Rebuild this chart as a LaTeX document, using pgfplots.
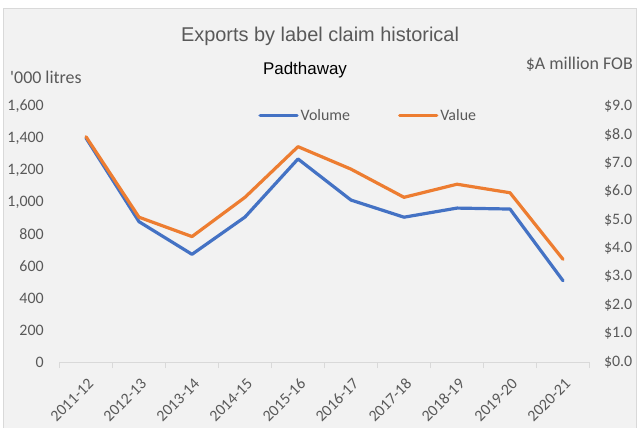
\documentclass[border=0pt]{standalone}
\usepackage{pgfplots}
\pgfplotsset{compat=1.18}
\usepackage{fontspec}
\setmainfont{Carlito}
\newfontfamily\cplain{Carlito}[Ligatures=TeXOff]
\newfontfamily\arial{Liberation Sans}
\definecolor{bgc}{HTML}{F2F2F2}
\definecolor{brd}{HTML}{D9D9D9}
\definecolor{txt}{HTML}{595959}
\definecolor{vol}{HTML}{4472C4}
\definecolor{val}{HTML}{ED7D31}
\pgfplotstableread{
x vol val
0 1400 7.92
1 877 5.09
2 673 4.41
3 906 5.79
4 1269 7.57
5 1012 6.78
6 905 5.79
7 962 6.25
8 956 5.95
9 508 3.61
}\data
\begin{document}
\begin{tikzpicture}[x=1bp,y=1bp]
\useasboundingbox (0,0) rectangle (638,427);
\fill[white] (0,0) rectangle (638,427);
\filldraw[fill=bgc,draw=brd,line width=1bp] (3,-2) rectangle (636.5,418);
\node[font=\arial\fontsize{20}{24}\selectfont,text=txt] at (320,391) {Exports by label claim historical};
\node[font=\arial\fontsize{17}{20}\selectfont,text=black] at (305,357) {Padthaway};
\node[font=\cplain\fontsize{18}{21}\selectfont,text=txt,anchor=west,inner sep=0pt] at (10,350) {'000 litres};
\node[font=\fontsize{18}{21}\selectfont,text=txt,anchor=east,inner sep=0pt] at (633,363) {\$A million FOB};
\begin{axis}[
  at={(59.5bp,65bp)}, anchor=south west,
  scale only axis, width=530bp, height=256bp,
  xmin=-0.5, xmax=9.5, ymin=0, ymax=1600,
  axis x line*=bottom, axis y line*=left,
  x axis line style={draw=brd,line width=1bp,-},
  y axis line style={draw=none},
  xtick={0,...,9},
  xticklabels={2011-12,2012-13,2013-14,2014-15,2015-16,2016-17,2017-18,2018-19,2019-20,2020-21},
  major x tick style={draw=none},
  minor xtick={-0.5,0.5,...,9.5},
  minor x tick style={draw=brd,line width=1bp},
  minor tick length=6bp,
  tick align=outside,
  xticklabel style={rotate=45,anchor=east,font=\fontsize{16}{18}\selectfont,text=txt,inner sep=1bp,yshift=-14bp,xshift=-6bp},
  ytick={0,200,...,1600},
  ytick style={draw=none},
  yticklabel style={font=\fontsize{16}{18}\selectfont,text=txt,xshift=-8bp},
  /pgf/number format/assume math mode=true,
  /pgf/number format/.cd,1000 sep={,},
]
\addplot[vol,line width=3.2bp,line cap=round,line join=round] table[x=x,y=vol]{\data};
\end{axis}
\begin{axis}[
  at={(59.5bp,65bp)}, anchor=south west,
  scale only axis, width=530bp, height=256bp,
  xmin=-0.5, xmax=9.5, ymin=0, ymax=9,
  axis x line=none,
  axis y line*=right,
  y axis line style={draw=none},
  ytick={0,1,...,9},
  ytick style={draw=none},
  yticklabel={\$\pgfmathprintnumber[fixed,fixed zerofill,precision=1]{\tick}},
  yticklabel style={font=\fontsize{16}{18}\selectfont,text=txt,xshift=11bp},
  /pgf/number format/assume math mode=true,
  legend style={draw=none,fill=none,at={(0.375,0.963)},anchor=west,
    font=\fontsize{16}{18}\selectfont,text=txt,inner sep=0pt,
    /tikz/every even column/.append style={column sep=46bp}},
  legend columns=2,
  legend cell align=left,
  legend image code/.code={\draw[#1,line cap=round] (0bp,0bp) -- (37bp,0bp);},
]
\addlegendimage{vol,line width=3.2bp}
\addlegendentry{Volume}
\addplot[val,line width=3.2bp,line cap=round,line join=round] table[x=x,y=val]{\data};
\addlegendentry{Value}
\end{axis}
\end{tikzpicture}
\end{document}
